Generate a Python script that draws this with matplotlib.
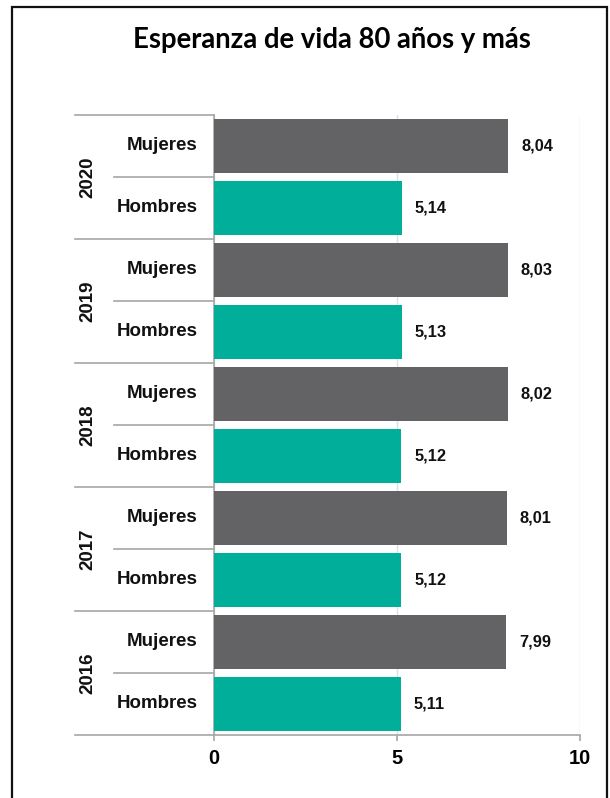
import matplotlib
matplotlib.use("Agg")
import matplotlib.pyplot as plt
import matplotlib.transforms as mtransforms
from matplotlib.patches import Rectangle
from matplotlib.lines import Line2D

years = ["2016", "2017", "2018", "2019", "2020"]
sexes = ["Hombres", "Mujeres"]
hombres = [5.11, 5.12, 5.12, 5.13, 5.14]
mujeres = [7.99, 8.01, 8.02, 8.03, 8.04]
xticks = [0, 5, 10]
title = "Esperanza de vida 80 años y más"

GREY = "#636365"
TEAL = "#00AE9A"
LINE = "#A6A6A6"

plt.rcParams['font.family'] = ['Liberation Sans', 'DejaVu Sans']

fig = plt.figure(figsize=(6.10, 7.98), dpi=100)
ax = fig.add_axes([214/610, 1 - 735/798, 366/610, 620/798])

positions, values, colors, labels = [], [], [], []
for i, y in enumerate(years):
    for j, (s, vals, c) in enumerate(zip(sexes, [hombres, mujeres], [TEAL, GREY])):
        positions.append(2 * i + j)
        values.append(vals[i])
        colors.append(c)
        labels.append(s)

ax.barh(positions, values, height=0.87, color=colors, zorder=3)
for p, v in zip(positions, values):
    ax.text(v + 0.35, p, f"{v:.2f}".replace(".", ","), va="center", ha="left",
            fontsize=11.8, fontweight="bold", color="#111111")

ax.set_xlim(0, 10)
ax.set_ylim(-0.5, len(positions) - 0.5)
ax.set_xticks(xticks)
ax.set_xticklabels([str(t) for t in xticks], fontsize=14.5, fontweight="bold")
ax.tick_params(axis="x", length=4, color=LINE, width=1.2, pad=6)
ax.set_yticks([])
ax.grid(axis="x", color="#D6E4EA", lw=1, zorder=0)
for s in ["top", "right"]:
    ax.spines[s].set_visible(False)
for s in ["left", "bottom"]:
    ax.spines[s].set_color(LINE)
    ax.spines[s].set_linewidth(1.2)

trans = mtransforms.blended_transform_factory(ax.transAxes, ax.transData)
x_outer = (75 - 214) / 366
x_inner = (114 - 214) / 366
x_lab = (198 - 214) / 366
x_year = (88 - 214) / 366

for p, lab in zip(positions, labels):
    ax.text(x_lab, p, lab, transform=trans, ha="right", va="center",
            fontsize=13.5, fontweight="bold", color="#111111")

for i, y in enumerate(years):
    ax.text(x_year, 2 * i + 0.5, y, transform=trans, ha="center", va="center",
            rotation=90, fontsize=13.5, fontweight="bold", color="#111111")
    # group boundaries
    ax.add_line(Line2D([x_outer, 0], [2 * i - 0.5, 2 * i - 0.5], transform=trans,
                       color=LINE, lw=1.2, clip_on=False))
    # inner boundary
    ax.add_line(Line2D([x_inner, 0], [2 * i + 0.5, 2 * i + 0.5], transform=trans,
                       color=LINE, lw=1.2, clip_on=False))
ax.add_line(Line2D([x_outer, 0], [len(positions) - 0.5] * 2, transform=trans,
                   color=LINE, lw=1.2, clip_on=False))

fig.text(332/610, 1 - 40/798, title, ha="center", va="center",
         fontsize=19.8, fontweight="bold", family=["Lato", "DejaVu Sans"], color="#000000")

fig.patches.append(Rectangle((12/610, -0.01), (607 - 12)/610, 1 - 7/798 + 0.01,
                             transform=fig.transFigure, fill=False,
                             edgecolor="#111111", lw=1.6, clip_on=False))

fig.savefig("out.png", dpi=100, facecolor="white")
